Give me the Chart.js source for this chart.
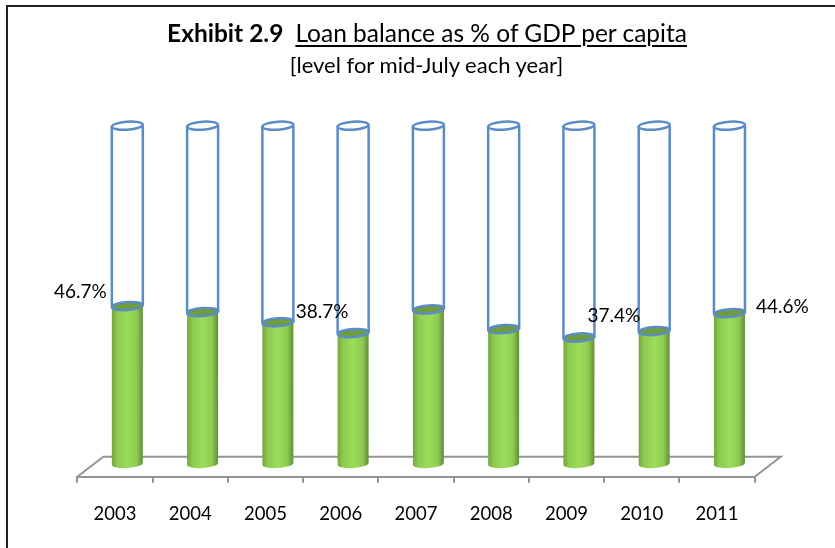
<!DOCTYPE html>
<html>
<head>
<meta charset="utf-8">
<script src="https://cdn.jsdelivr.net/npm/chart.js@4"></script>
<style>
    html, body { margin: 0; padding: 0; background: #fff; }
    #wrap { position: relative; width: 835px; height: 548px; overflow: hidden; font-family: Lato, sans-serif; color: #000; }
    #frame { position: absolute; left: 6px; top: 5px; width: 900px; height: 600px; border: 2px solid #222; box-sizing: border-box; }
    #title { position: absolute; left: 0; width: 854px; top: 18px; text-align: center; font-size: 24.5px; line-height: 30px; white-space: nowrap; }
    #title u { margin-left: 12px; text-decoration-thickness: 2px; text-underline-offset: 3px; }
    #subtitle { position: absolute; left: 0; width: 853px; top: 51px; text-align: center; font-size: 22px; line-height: 28px; white-space: nowrap; }
    canvas { position: absolute; left: 0; top: 0; }
</style>
</head>
<body>
<div id="wrap">
    <div id="frame"></div>
    <canvas id="grafico" width="835" height="548"></canvas>
    <div id="title"><b>Exhibit 2.9</b><u>Loan balance as % of GDP per capita</u></div>
    <div id="subtitle">[level for mid-July each year]</div>
</div>
<script>
// Dados
const years = ['2003', '2004', '2005', '2006', '2007', '2008', '2009', '2010', '2011'];
const loanBalance = [46.7, 44.9, 41.9, 38.7, 45.7, 39.9, 37.4, 39.3, 44.6];
const tubeTop = [100, 100, 100, 100, 100, 100, 100, 100, 100];
const axisMin = -3.75;
const axisMax = 100;

// rotulos puxados a mao no original: indice do ano -> deslocamento
const labelOffsets = { 0: [-47, -14.5], 3: [-31, -21], 6: [35, -21.5], 8: [53, -6.5] };

const depthX = 12.4, depthY = 20;
const blue = '#5b8cc6';
const fontLabel = '19px Lato, sans-serif';

function drawGreen(ctx, el) {
    const r = el.width / 2;
    const x = el.x + depthX;
    const ry = 4, tilt = -0.07;
    const g = ctx.createLinearGradient(x - r, 0, x + r, 0);
    g.addColorStop(0, '#74a540');
    g.addColorStop(0.18, '#8ecb52');
    g.addColorStop(0.5, '#9bdd59');
    g.addColorStop(0.8, '#8ecb52');
    g.addColorStop(1, '#618e36');
    ctx.beginPath();
    ctx.moveTo(x - r, el.y);
    ctx.lineTo(x - r, el.base);
    ctx.ellipse(x, el.base, r, ry, tilt, Math.PI, 0, true);
    ctx.lineTo(x + r, el.y);
    ctx.closePath();
    ctx.fillStyle = g;
    ctx.fill();
    ctx.beginPath();
    ctx.ellipse(x, el.y, r, ry, tilt, 0, Math.PI * 2);
    ctx.fillStyle = '#6f9c3c';
    ctx.fill();
}

function drawTube(ctx, el) {
    const r = el.width / 2;
    const x = el.x + depthX;
    const ry = 4, tilt = -0.07;
    ctx.strokeStyle = blue;
    ctx.lineWidth = 2.5;
    ctx.beginPath();
    ctx.moveTo(x - r, el.y);
    ctx.lineTo(x - r, el.base);
    ctx.moveTo(x + r, el.y);
    ctx.lineTo(x + r, el.base);
    ctx.stroke();
    ctx.beginPath();
    ctx.ellipse(x, el.y, r, ry, tilt, 0, Math.PI * 2);
    ctx.stroke();
    ctx.beginPath();
    ctx.ellipse(x, el.base, r, ry, tilt, 0, Math.PI * 2);
    ctx.stroke();
}

const cylinders = {
    id: 'cylinders',
    beforeDatasetsDraw(chart) {
        // chao em perspectiva
        const ctx = chart.ctx, a = chart.chartArea;
        ctx.save();
        ctx.strokeStyle = '#949494';
        ctx.lineWidth = 2;
        ctx.beginPath();
        ctx.moveTo(a.left, a.bottom);
        ctx.lineTo(a.left + 26, a.bottom - depthY);
        ctx.lineTo(a.right + 26, a.bottom - depthY);
        ctx.lineTo(a.right, a.bottom);
        ctx.stroke();
        ctx.restore();
    },
    afterDatasetsDraw(chart) {
        const ctx = chart.ctx;
        ctx.save();
        chart.getDatasetMeta(0).data.forEach(el => drawGreen(ctx, el));
        chart.getDatasetMeta(1).data.forEach(el => drawTube(ctx, el));
        ctx.font = fontLabel;
        ctx.fillStyle = '#000';
        ctx.textAlign = 'center';
        ctx.textBaseline = 'middle';
        chart.getDatasetMeta(0).data.forEach((el, i) => {
            const off = labelOffsets[i];
            if (!off) return;
            ctx.fillText(loanBalance[i].toFixed(1) + '%', el.x + depthX + off[0], el.y + off[1]);
        });
        ctx.restore();
    }
};

new Chart(document.getElementById('grafico'), {
    type: 'bar',
    plugins: [cylinders],
    data: {
        labels: years,
        datasets: [
            { label: 'Loan balance', data: loanBalance, backgroundColor: 'transparent', borderWidth: 0, grouped: false, barThickness: 31 },
            { label: 'Tube', data: tubeTop.map((t, i) => [loanBalance[i], t]), backgroundColor: 'transparent', borderWidth: 0, grouped: false, barThickness: 31 }
        ]
    },
    options: {
        responsive: false,
        animation: false,
        layout: { padding: { left: 77.3, right: 80.3, top: 125.7, bottom: 0 } },
        plugins: { legend: { display: false }, title: { display: false }, tooltip: { enabled: false } },
        scales: {
            y: { display: false, min: axisMin, max: axisMax },
            x: {
                afterFit(scale) { scale.height = 548 - 476.7; },
                border: { color: '#949494', width: 2 },
                grid: { drawOnChartArea: false, drawTicks: true, tickLength: 6, color: '#949494', lineWidth: 2 },
                ticks: { color: '#000', font: { family: 'Lato, sans-serif', size: 18.5 }, padding: 20, maxRotation: 0 }
            }
        }
    }
});
</script>
</body>
</html>
